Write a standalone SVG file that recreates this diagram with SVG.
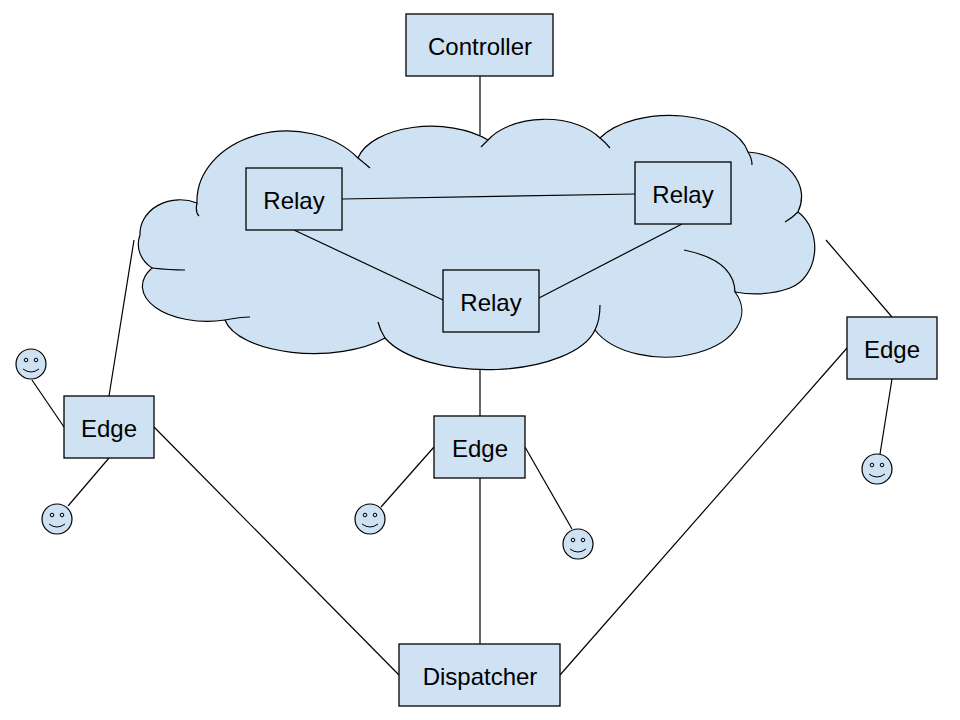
<svg xmlns="http://www.w3.org/2000/svg" width="960" height="720" viewBox="0 0 960 720">
<style>
.n{fill:#cfe2f3;stroke:#000;stroke-width:1.3}
.t{font-family:"Liberation Sans",Arial,sans-serif;font-size:24px;text-anchor:middle;dominant-baseline:central;fill:#000}
.c line{stroke:#000;stroke-width:1.2}
.f{fill:#cfe2f3;stroke:#000;stroke-width:1.2}
</style>
<rect width="960" height="720" fill="#fff"/>
<g class="c" id="connectors">
<line x1="480" y1="76" x2="480" y2="135"/>
<line x1="480" y1="360" x2="480" y2="416"/>
<line x1="109" y1="396" x2="134" y2="240"/>
<line x1="892" y1="317" x2="826" y2="240"/>
<line x1="154" y1="427" x2="399" y2="675"/>
<line x1="847" y1="348" x2="560" y2="675"/>
<line x1="480" y1="478" x2="480" y2="644"/>
<line x1="32" y1="380" x2="64" y2="427"/>
<line x1="68" y1="506" x2="109" y2="458"/>
<line x1="381" y1="507" x2="434" y2="447"/>
<line x1="572" y1="529" x2="525" y2="447"/>
<line x1="880" y1="454" x2="892" y2="379"/>
</g>
<g id="cloud">
<path class="f" d="M140,235 A40,34 0 0 1 197,203 A90,70 0 0 1 358,158 A75,40 0 0 1 488,140 A65,40 0 0 1 600,138 A80,45 0 0 1 748,152 A60,45 0 0 1 798,212 A35,42 0 0 1 790,288 A60,30 0 0 1 735,292 A75,45 0 0 1 595,330 A110,50 0 0 1 385,338 A90,40 0 0 1 225,320 A65,35 0 0 1 152,268 A35,30 0 0 1 140,235 Z"/>
<path d="M197,203 Q195,212 199,216 M358,158 Q363,162 370,168 M488,140 Q484,144 481,147 M600,138 Q605,142 610,148 M748,152 Q752,158 752,165 M798,212 Q792,218 785,222 M735,292 Q734,260 684,250 M595,330 Q600,320 600,305 M385,338 Q380,330 378,322 M225,320 Q240,317 250,317 M152,268 Q170,270 185,270" fill="none" stroke="#000" stroke-width="1.2"/>
</g>
<g class="c" id="relay-links">
<line x1="342" y1="199" x2="635" y2="194"/>
<line x1="294" y1="230" x2="443" y2="300"/>
<line x1="682" y1="224" x2="539" y2="298"/>
</g>
<g id="controller"><rect class="n" x="406" y="14" width="147" height="62"/><text class="t" x="480" y="46">Controller</text></g>
<g id="relay1"><rect class="n" x="246" y="168" width="96" height="62"/><text class="t" x="294" y="200">Relay</text></g>
<g id="relay2"><rect class="n" x="635" y="162" width="96" height="62"/><text class="t" x="683" y="194">Relay</text></g>
<g id="relay3"><rect class="n" x="443" y="270" width="96" height="62"/><text class="t" x="491" y="302">Relay</text></g>
<g id="edge-left"><rect class="n" x="64" y="396" width="90" height="62"/><text class="t" x="109" y="428">Edge</text></g>
<g id="edge-center"><rect class="n" x="434" y="416" width="91" height="62"/><text class="t" x="480" y="448">Edge</text></g>
<g id="edge-right"><rect class="n" x="847" y="317" width="90" height="62"/><text class="t" x="892" y="349">Edge</text></g>
<g id="dispatcher"><rect class="n" x="399" y="644" width="161" height="62"/><text class="t" x="480" y="676">Dispatcher</text></g>
<defs>
<g id="smile">
<circle r="15" class="f"/>
<circle cx="-5" cy="-4" r="1.8" fill="none" stroke="#000" stroke-width="1"/>
<circle cx="5" cy="-4" r="1.8" fill="none" stroke="#000" stroke-width="1"/>
<path d="M-8,5 Q0,11 8,5" fill="none" stroke="#000" stroke-width="1"/>
</g>
</defs>
<g id="user1"><use href="#smile" x="31" y="364"/></g>
<g id="user2"><use href="#smile" x="57" y="519"/></g>
<g id="user3"><use href="#smile" x="370" y="519"/></g>
<g id="user4"><use href="#smile" x="578" y="544"/></g>
<g id="user5"><use href="#smile" x="877" y="469"/></g>
</svg>
